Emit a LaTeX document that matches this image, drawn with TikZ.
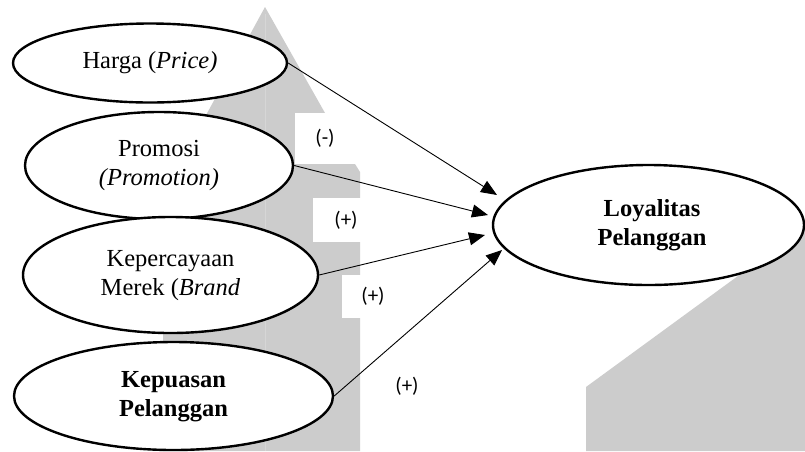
\documentclass[tikz,border=0pt]{standalone}
\usepackage{fontspec}
\setmainfont{Liberation Serif}
\newfontfamily\lblfont{Carlito}
\usetikzlibrary{shapes.geometric,arrows.meta}
\definecolor{wm}{HTML}{CCCCCC}
\definecolor{wmseam}{HTML}{D6D6D6}
\begin{document}
\begin{tikzpicture}[x=1pt,y=-1pt,
  var/.style={ellipse,draw,line width=2.4pt,fill=white,inner sep=0pt,font=\fontsize{24.5}{29}\selectfont},
  conn/.style={line width=0.9pt,-{Triangle[length=16pt,width=13pt]}},
  lbl/.style={fill=white,inner sep=0pt,font=\lblfont\fontsize{21}{24}\selectfont}]
\useasboundingbox (0,0) rectangle (805,451);
\fill[white] (0,0) rectangle (805,451);
% watermark shapes
\fill[wm] (265,7) -- (325,113) -- (295,113) -- (295,164) -- (355,164) -- (360,172)
  -- (360,451) -- (163,451) -- (163,170) -- (187,150) -- cycle;
\draw[wmseam,line width=1pt] (265,14) -- (265,451);
\fill[wm] (586,451) -- (586,387) -- (805,227) -- (805,451) -- cycle;
% label boxes
\node[lbl,minimum width=60pt,minimum height=51pt] (l1) at (325,138.5) {\raisebox{-3pt}{(-)}};
\node[lbl,minimum width=66pt,minimum height=44pt] (l2) at (346,220) {\raisebox{-3pt}{(+)}};
\node[lbl,minimum width=62pt,minimum height=43pt] (l3) at (373,296.5) {\raisebox{-5pt}{(+)}};
\node[lbl,minimum width=60pt,minimum height=44pt] (l4) at (407,386) {(+)};
% variables
\node[var,minimum width=274pt,minimum height=79pt] (harga) at (150,63) {Harga (\textit{Price)}};
\node[var,minimum width=268pt,minimum height=107pt] (promo) at (159,165.5)
  {\raisebox{-4.5pt}{\begin{tabular}{@{}c@{}}Promosi\\\textit{(Promotion)}\end{tabular}}};
\node[var,minimum width=295pt,minimum height=116pt] (kep) at (170.5,275)
  {\raisebox{-4pt}{\begin{tabular}{@{}c@{}}Kepercayaan\\Merek (\textit{Brand}\end{tabular}}};
\node[var,minimum width=319pt,minimum height=108pt] (puas) at (173.5,396)
  {\raisebox{-6.5pt}{\begin{tabular}{@{}c@{}}\textbf{Kepuasan}\\\textbf{Pelanggan}\end{tabular}}};
\node[var,minimum width=311pt,minimum height=120pt] (loy) at (648.5,225)
  {\hspace*{7pt}\begin{tabular}{@{}c@{}}\textbf{Loyalitas}\\\textbf{Pelanggan}\end{tabular}};
% arrow tips
\coordinate (t1) at (497,195);
\coordinate (t2) at (488,215);
\coordinate (t3) at (485,235);
\coordinate (t4) at (502,250);
\draw[conn] (harga.east) -- (t1);
\draw[conn] (promo.east) -- (t2);
\draw[conn] (kep.east) -- (t3);
\draw[conn] (puas.east) -- (t4);
\end{tikzpicture}
\end{document}
